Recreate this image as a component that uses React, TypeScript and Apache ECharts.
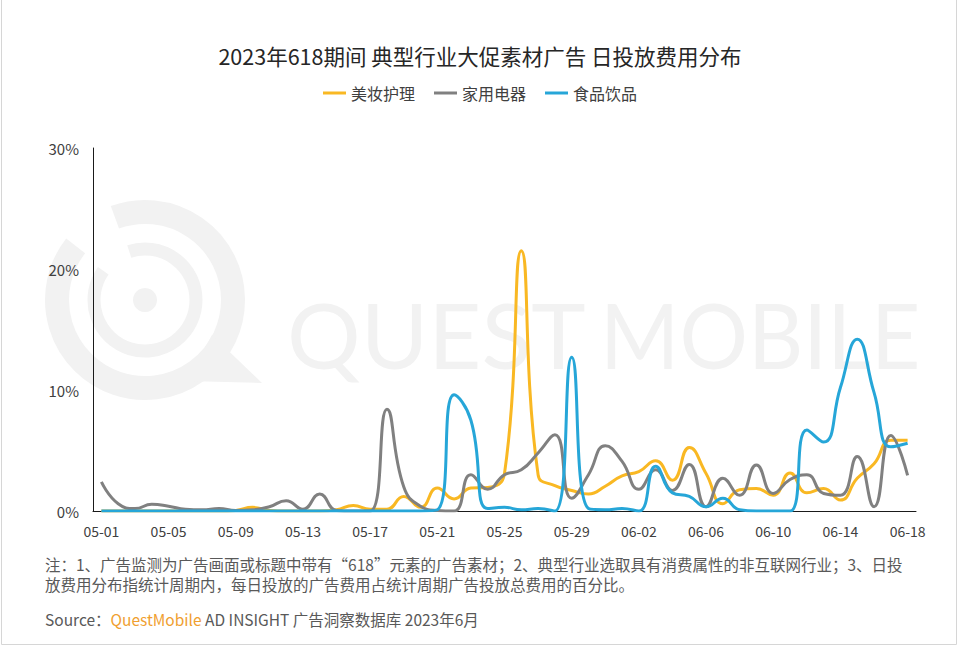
import React, { useEffect, useRef } from "react";
import * as echarts from "echarts";

const categories = [
  "05-01", "05-02", "05-03", "05-04", "05-05", "05-06", "05-07", "05-08", "05-09", "05-10",
  "05-11", "05-12", "05-13", "05-14", "05-15", "05-16", "05-17", "05-18", "05-19", "05-20",
  "05-21", "05-22", "05-23", "05-24", "05-25", "05-26", "05-27", "05-28", "05-29", "05-30",
  "05-31", "06-01", "06-02", "06-03", "06-04", "06-05", "06-06", "06-07", "06-08", "06-09",
  "06-10", "06-11", "06-12", "06-13", "06-14", "06-15", "06-16", "06-17", "06-18",
];

const beauty = [
  0, 0, 0, 0, 0, 0, 0, 0, 0.05, 0.3,
  0.05, 0, 0, 0, 0.1, 0.45, 0.15, 0.15, 1.2, 0.3,
  1.9, 1.0, 1.9, 1.95, 3.1, 21.5, 3.0, 2.1, 1.7, 1.4,
  2.05, 2.9, 3.25, 4.15, 2.55, 5.25, 3.1, 0.6, 1.75, 1.85,
  1.3, 3.15, 1.5, 1.85, 0.9, 2.7, 3.9, 5.85, 5.85,
];

const appliance = [
  2.4, 0.6, 0.2, 0.55, 0.4, 0.15, 0.1, 0.2, 0.05, 0.1,
  0.35, 0.85, 0.15, 1.4, 0.05, 0, 0, 8.4, 2.0, 0.4,
  0.05, 0, 3.0, 1.8, 3.0, 3.4, 4.8, 6.3, 1.05, 3.0,
  5.4, 4.1, 1.8, 3.4, 1.7, 3.85, 0.35, 2.7, 1.3, 3.8,
  1.45, 2.6, 3.0, 1.45, 1.3, 4.5, 0.35, 6.25, 2.95,
];

const food = [
  0, 0, 0, 0, 0, 0, 0, 0, 0, 0,
  0, 0, 0, 0, 0, 0, 0, 0, 0, 0,
  0.1, 9.6, 7.5, 0.2, 0.3, 0.1, 0.2, 0, 12.7, 0.2,
  0.1, 0.2, 0, 3.7, 1.5, 1.2, 0.35, 1.05, 0.1, 0,
  0, 0, 6.7, 5.7, 10.2, 14.2, 9.8, 5.3, 5.6,
];

const seriesNames = ["美妆护理", "家用电器", "食品饮品"];
const seriesColors = ["#f9b823", "#808080", "#26a6d8"];
const yTicks = [0, 10, 20, 30];

const titleText = "2023年618期间 典型行业大促素材广告 日投放费用分布";
const noteLine1 = "注：1、广告监测为广告画面或标题中带有“618”元素的广告素材；2、典型行业选取具有消费属性的非互联网行业；3、日投";
const noteLine2 = "放费用分布指统计周期内，每日投放的广告费用占统计周期广告投放总费用的百分比。";
const sourceLabel = "Source：";
const sourceBrand = "QuestMobile";
const sourceRest = " AD INSIGHT 广告洞察数据库 2023年6月";

const FONT = '"Noto Sans CJK SC", "Noto Sans", sans-serif';
const WM = "#f2f2f2";

export default function App() {
  const ref = useRef<HTMLDivElement>(null);

  useEffect(() => {
    if (!ref.current) return;
    const chart = echarts.init(ref.current, null, { renderer: "svg" });
    const deg = (d: number) => (d * Math.PI) / 180;
    const option: any = {
      animation: false,
      backgroundColor: "#ffffff",
      textStyle: { fontFamily: FONT },
      title: {
        text: titleText,
        left: "center",
        top: 40,
        textStyle: { fontSize: 21.5, fontWeight: "normal", color: "#262626", fontFamily: FONT },
      },
      legend: {
        top: 80,
        left: "center",
        icon: "rect",
        itemWidth: 23,
        itemHeight: 3,
        itemGap: 19,
        textStyle: { fontSize: 16, color: "#404040", fontFamily: FONT },
        data: seriesNames,
      },
      grid: { left: 93, right: 44, top: 148, bottom: 135, containLabel: false },
      xAxis: {
        type: "category",
        data: categories,
        boundaryGap: true,
        axisLine: { show: true, lineStyle: { color: "#1a1a1a", width: 1 } },
        axisTick: { show: false },
        axisLabel: { interval: 3, fontSize: 14, color: "#404040", margin: 13, fontFamily: FONT },
        splitLine: { show: false },
      },
      yAxis: {
        type: "value",
        min: yTicks[0],
        max: yTicks[yTicks.length - 1],
        interval: 10,
        axisLine: { show: true, lineStyle: { color: "#1a1a1a", width: 1 } },
        axisTick: { show: false },
        axisLabel: { formatter: "{value}%", fontSize: 15, color: "#404040", margin: 14, fontFamily: FONT },
        splitLine: { show: false },
      },
      series: [beauty, appliance, food].map((d, i) => ({
        name: seriesNames[i],
        type: "line",
        data: d,
        smooth: 0.5,
        showSymbol: false,
        symbol: "none",
        lineStyle: { width: 3, color: seriesColors[i] },
        itemStyle: { color: seriesColors[i] },
        z: 2 + i,
      })),
      graphic: [
        {
          type: "group",
          z: -10,
          silent: true,
          children: [
            {
              type: "arc",
              shape: { cx: 145, cy: 300, r: 88, startAngle: deg(250), endAngle: deg(578), clockwise: true },
              style: { stroke: WM, lineWidth: 24, fill: null },
            },
            {
              type: "arc",
              shape: { cx: 145, cy: 300, r: 51, startAngle: deg(252), endAngle: deg(575), clockwise: true },
              style: { stroke: WM, lineWidth: 13, fill: null },
            },
            { type: "circle", shape: { cx: 145, cy: 300, r: 12 }, style: { fill: WM } },
            {
              type: "polygon",
              shape: { points: [[212, 335], [262, 383], [186, 381]] },
              style: { fill: WM },
            },
            {
              type: "text",
              x: 287,
              y: 333,
              style: { text: "QUEST", fontSize: 92, fontFamily: "Lato", fill: WM, verticalAlign: "middle", align: "left" },
            },
            {
              type: "text",
              x: 600,
              y: 333,
              scaleX: 0.93,
              style: { text: "MOBILE", fontSize: 92, fontFamily: "Lato", fill: WM, verticalAlign: "middle", align: "left" },
            },
          ],
        },
        {
          type: "text",
          left: 45,
          top: 556,
          style: { text: noteLine1, fontSize: 15.5, fill: "#595959", fontFamily: FONT },
        },
        {
          type: "text",
          left: 45,
          top: 576,
          style: { text: noteLine2, fontSize: 15.5, fill: "#595959", fontFamily: FONT },
        },
        {
          type: "text",
          left: 45,
          top: 611,
          style: {
            text: `{a|${sourceLabel}}{b|${sourceBrand}}{a|${sourceRest}}`,
            fontFamily: FONT,
            fontSize: 15.5,
            fill: "#595959",
            rich: {
              a: { fontSize: 15.5, fill: "#595959", fontFamily: FONT },
              b: { fontSize: 15.5, fill: "#f0a030", fontFamily: FONT },
            },
          },
        },
        {
          type: "polyline",
          silent: true,
          shape: { points: [[1.5, 0], [1.5, 644.5], [956.5, 644.5], [956.5, 0]] },
          style: { stroke: "#d6d6d6", lineWidth: 1, fill: null },
        },
      ],
    };
    chart.setOption(option);
    return () => chart.dispose();
  }, []);

  return (
    <div
      ref={ref}
      style={{ position: "fixed", left: 0, top: 0, width: 960, height: 646, background: "#fff" }}
    />
  );
}
